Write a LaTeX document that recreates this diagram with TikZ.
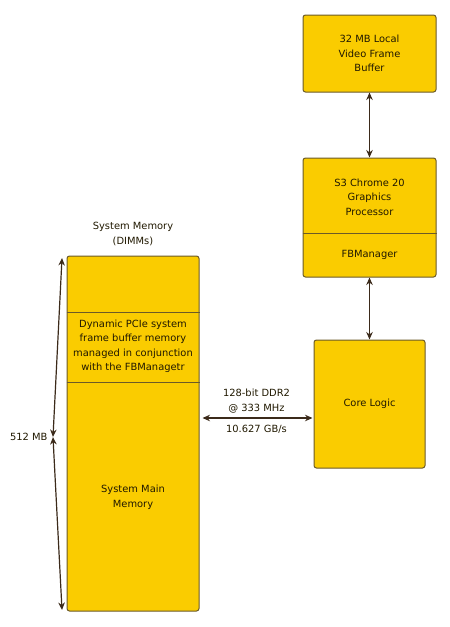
\documentclass[tikz,border=0pt]{standalone}
\usepackage{fontspec}
\setmainfont{DejaVu Sans}
\usetikzlibrary{positioning,calc,arrows.meta}
\definecolor{boxfill}{HTML}{FACC00}
\definecolor{boxedge}{HTML}{6B5A28}
\definecolor{arrowcol}{HTML}{3B2A1A}
\definecolor{textcol}{HTML}{201800}

\begin{document}
\begin{tikzpicture}[x=1pt, y=-1pt, font=\fontsize{9.9}{14.5}\selectfont,
    every node/.style={text=textcol, align=center},
    block/.style={draw=boxedge, fill=boxfill, rounded corners=2.5pt, line width=1pt, inner sep=0pt},
    divider/.style={draw=boxedge, line width=1pt},
    link/.style={draw=arrowcol, line width=1.2pt, {Stealth[length=7.5pt,width=6.5pt]}-{Stealth[length=7.5pt,width=6.5pt]}}]
    \useasboundingbox (0,0) rectangle (450,627);

    % graphics side
    \node [block, minimum width=133pt, minimum height=77pt] (vfb) at (369.5,53.5) {32 MB Local\\Video Frame\\Buffer};
    \node [block, minimum width=133pt, minimum height=119pt] (gpu) at (369.5,217.5) {};
    \node (gpuname) at (369.5,197) {S3 Chrome 20\\Graphics\\Processor};
    \node (fbm) at (369.5,255) {FBManager};
    \node [block, minimum width=111pt, minimum height=128pt] (core) at (369.5,404) {Core Logic};
    \draw [divider] (gpu.west |- 0,233) -- (gpu.east |- 0,233);

    % system memory
    \node (memtitle) at (133,234) {System Memory\\(DIMMs)};
    \node [block, minimum width=132pt, minimum height=355pt] (mem) at (133,433.5) {};
    \draw [divider] (mem.west |- 0,312) -- (mem.east |- 0,312);
    \draw [divider] (mem.west |- 0,382) -- (mem.east |- 0,382);
    \node (fbmem) at (133,346.5) {Dynamic PCIe system\\frame buffer memory\\managed in conjunction\\with the FBManagetr};
    \node (mainmem) at (133,497.5) {System Main\\Memory};

    % size marker
    \coordinate (dimtop) at (62,258);
    \coordinate (dimmid) at (53,437);
    \coordinate (dimbot) at (62,610);
    \node [left=2pt of dimmid] (size) {512 MB};
    \draw [link] (dimmid) -- (dimtop);
    \draw [link] (dimmid) -- (dimbot);

    % links
    \draw [link] (vfb) -- (gpu);
    \draw [link] (gpu) -- (core);
    \draw [link, shorten <=3pt, shorten >=1pt] (mem.east |- 0,418) -- (core.west |- 0,418)
        node [midway, above=1pt] (bus) {128-bit DDR2\\@ 333 MHz}
        node [midway, below=3pt] (bw) {10.627 GB/s};
\end{tikzpicture}
\end{document}
